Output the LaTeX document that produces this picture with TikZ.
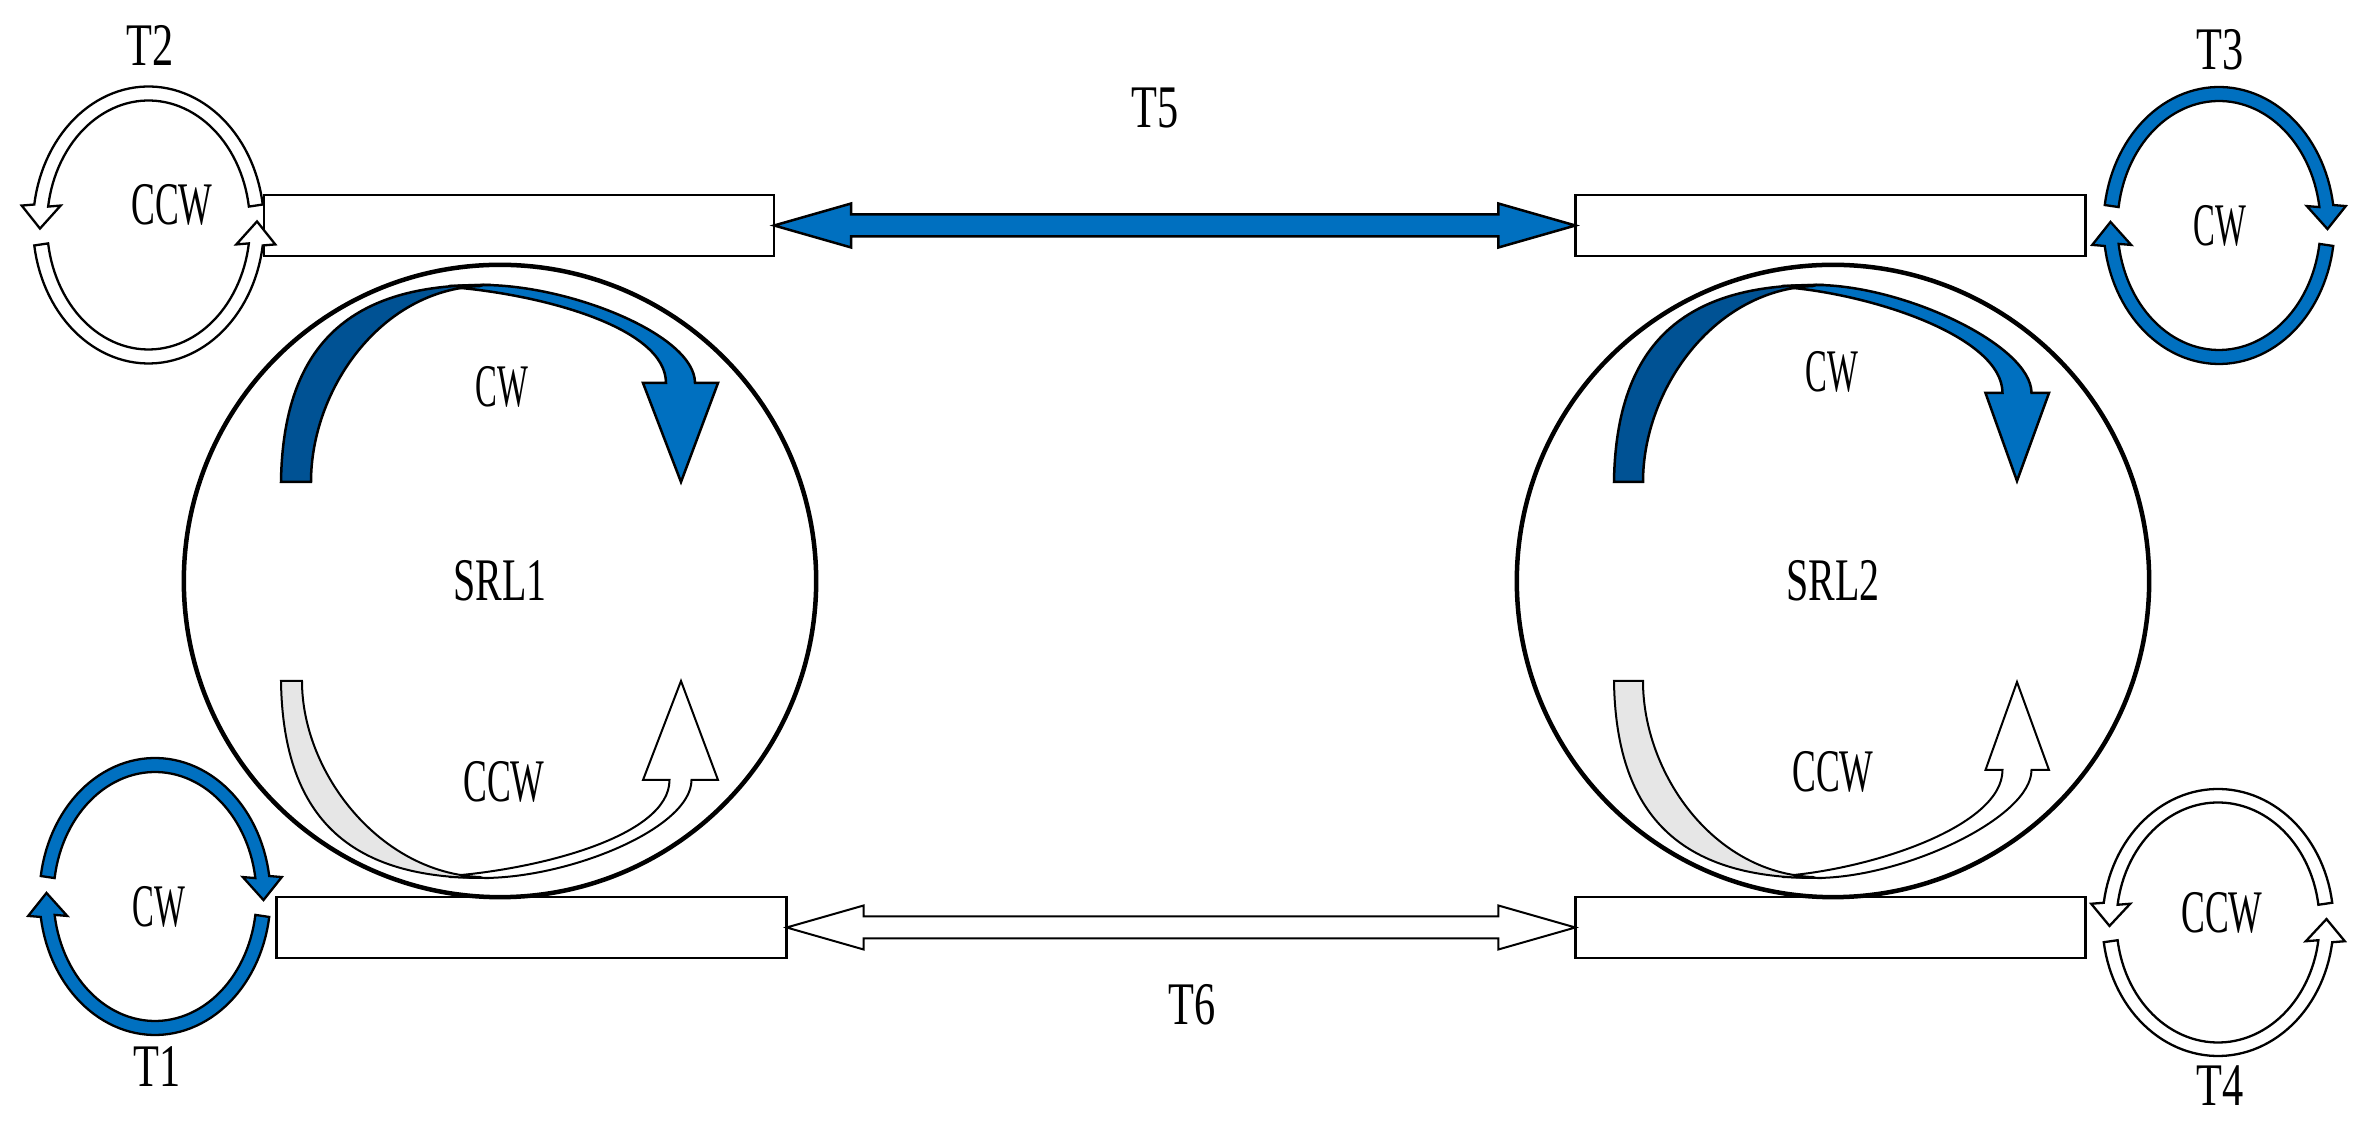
\documentclass[tikz,border=0pt]{standalone}
\usepackage{fontspec}
\setmainfont{Liberation Serif}
\usetikzlibrary{calc}
\definecolor{oblue}{RGB}{0,112,192}
\definecolor{dblue}{RGB}{0,82,148}
\definecolor{lgray}{RGB}{230,230,230}
\newcommand\sx[2]{\scalebox{#1}[1]{#2}}
% half ring arrow: #1 cx, #2 cy, #3 start angle, #4 end angle, #5 fill, #6 side sign, #7 tip dy
\newcommand\halfring[7]{%
  \filldraw[ringarrow, fill=#5]
    plot[domain=#3:#4, samples=60] ({#1+115.5*cos(\x)},{#2+138.5*sin(\x)})
    -- ({#1+108.5*cos(#4)+(#6)*19.5},{#2+131.5*sin(#4)})
    -- ({#1+(#6)*108.5},{#2+131.5*sin(#4)+(#7)})
    -- ({#1+108.5*cos(#4)-(#6)*19.5},{#2+131.5*sin(#4)})
    -- plot[domain=#4:#3, samples=60] ({#1+101.5*cos(\x)},{#2+124.5*sin(\x)})
    -- cycle;
}
% curved arrow inside a ring: #1 dark colour, #2 light colour, #3 line width, #4 band width at head
\newcommand\curvedarrow[4]{%
  \filldraw[curved, line width=#3, fill=#2]
    (-50,-294) -- (-17,-295) .. controls (70,-295) and ({\cvHC+#4/2},{\cvHB-48}) .. ({\cvHC+#4/2},\cvHB)
    -- (\cvHR,\cvHB) -- (\cvTX,\cvTY) -- (\cvHL,\cvHB) -- ({\cvHC-#4/2},\cvHB)
    .. controls ({\cvHC-#4/2},{\cvHB-56}) and (40,-286) .. (-50,-293) -- cycle;
  \filldraw[curved, line width=#3, fill=#1]
    (-219,-98) .. controls (-217,-240) and (-145,-295) .. (-17,-295) -- (-20,-294)
    .. controls (-120,-290) and ({-219+\cvBW},-190) .. ({-219+\cvBW},-98) -- cycle;
}
\begin{document}
\begin{tikzpicture}[x=0.01cm, y=-0.01cm,
  lbl/.style={inner sep=0, outer sep=0, font=\fontsize{17.2}{20}\selectfont},
  wg/.style={draw, fill=white, line width=0.025cm, minimum width=5.1cm, minimum height=0.61cm, inner sep=0, outer sep=0},
  srl/.style={circle, draw, line width=0.045cm, minimum size=6.32cm, inner sep=0, outer sep=0, font=\fontsize{17.2}{20}\selectfont},
  ringarrow/.style={draw=black, line width=0.023cm, line join=miter},
  blockarrow/.style={draw=black, line join=miter},
  curved/.style={draw=black, line join=miter}]
\useasboundingbox (0,0) rectangle (2365,1122);

% waveguides
\node[wg] (wgTL) at (519,225.5) {};
\node[wg] (wgBL) at (531.5,927.5) {};
\node[wg] (wgTR) at (1830.5,225.5) {};
\node[wg] (wgBR) at (1830.5,927.5) {};

% ring lasers
\node[srl] (srl1) at (500,581) {\sx{0.66}{SRL1}};
\node[srl] (srl2) at (1833,581) {\sx{0.66}{SRL2}};

% T5 (blue) double block arrow
\filldraw[blockarrow, line width=0.025cm, fill=oblue]
  (wgTL.east) -- ($(wgTL.east)+(77,-22)$) -- ($(wgTL.east)+(77,-11)$)
  -- ($(wgTR.west)+(-77,-11)$) -- ($(wgTR.west)+(-77,-22)$) -- (wgTR.west)
  -- ($(wgTR.west)+(-77,22)$) -- ($(wgTR.west)+(-77,11)$)
  -- ($(wgTL.east)+(77,11)$) -- ($(wgTL.east)+(77,22)$) -- cycle;
% T6 (white) double block arrow
\filldraw[blockarrow, line width=0.02cm, fill=white]
  (wgBL.east) -- ($(wgBL.east)+(77,-22)$) -- ($(wgBL.east)+(77,-11)$)
  -- ($(wgBR.west)+(-77,-11)$) -- ($(wgBR.west)+(-77,-22)$) -- (wgBR.west)
  -- ($(wgBR.west)+(-77,22)$) -- ($(wgBR.west)+(-77,11)$)
  -- ($(wgBL.east)+(77,11)$) -- ($(wgBL.east)+(77,22)$) -- cycle;

% curved arrows in SRL1
\def\cvBW{30}\def\cvHC{180.5}\def\cvHB{-197}\def\cvHL{143}\def\cvHR{218}\def\cvTX{181}\def\cvTY{-98}
\begin{scope}[shift={(500,580)}]
  \curvedarrow{dblue}{oblue}{0.025cm}{29}
\end{scope}
\def\cvBW{21}
\begin{scope}[shift={(500,583)}, yscale=-1]
  \curvedarrow{lgray}{white}{0.02cm}{22}
\end{scope}
% curved arrows in SRL2
\def\cvBW{29}\def\cvHC{184}\def\cvHB{-187}\def\cvHL{152.5}\def\cvHR{216}\def\cvTX{184}\def\cvTY{-99}
\begin{scope}[shift={(1833,580)}]
  \curvedarrow{dblue}{oblue}{0.025cm}{29}
\end{scope}
\begin{scope}[shift={(1833,583)}, yscale=-1]
  \curvedarrow{lgray}{white}{0.02cm}{29}
\end{scope}

% small rings
% T2 (CCW, white)
\halfring{148.5}{225}{-8.5}{-171.5}{white}{-1}{23}
\halfring{148.5}{225}{171.5}{8.5}{white}{1}{-23}
% T1 (CW, blue)
\halfring{155}{896.5}{-171.5}{-8.5}{oblue}{1}{23}
\halfring{155}{896.5}{8.5}{171.5}{oblue}{-1}{-23}
% T3 (CW, blue)
\halfring{2219}{225.5}{-171.5}{-8.5}{oblue}{1}{23}
\halfring{2219}{225.5}{8.5}{171.5}{oblue}{-1}{-23}
% T4 (CCW, white), slightly lower ring
\begin{scope}[shift={(2218,922.5)}, yscale=0.964]
\halfring{0}{0}{-8.5}{-171.5}{white}{-1}{23}
\halfring{0}{0}{171.5}{8.5}{white}{1}{-23}
\end{scope}

% labels
\node[lbl] (t2) at (150,45) {\sx{0.70}{T2}};
\node[lbl] (t1) at (157,1067) {\sx{0.70}{T1}};
\node[lbl] (t3) at (2220,50) {\sx{0.70}{T3}};
\node[lbl] (t4) at (2220,1086) {\sx{0.70}{T4}};
\node[lbl] (t5) at (1155,108) {\sx{0.70}{T5}};
\node[lbl] (t6) at (1192,1005) {\sx{0.70}{T6}};
\node[lbl] (r2lbl) at (172,205) {\sx{0.59}{CCW}};
\node[lbl] (r1lbl) at (159,907) {\sx{0.54}{CW}};
\node[lbl] (r3lbl) at (2220,226) {\sx{0.54}{CW}};
\node[lbl] (r4lbl) at (2222,913) {\sx{0.59}{CCW}};
\node[lbl] (s1cw) at (502,387) {\sx{0.54}{CW}};
\node[lbl] (s1ccw) at (504,782) {\sx{0.59}{CCW}};
\node[lbl] (s2cw) at (1832,372) {\sx{0.54}{CW}};
\node[lbl] (s2ccw) at (1833,772) {\sx{0.59}{CCW}};
\end{tikzpicture}
\end{document}
